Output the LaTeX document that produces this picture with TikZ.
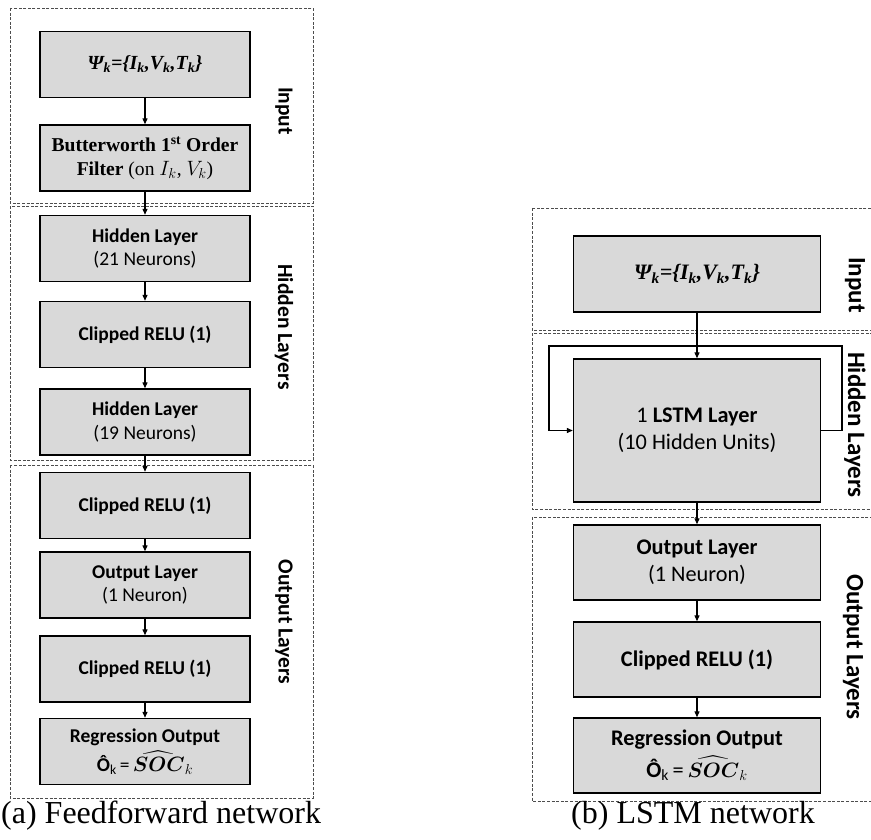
\documentclass[tikz,border=0pt]{standalone}
\usepackage{fontspec}
\usepackage{amsmath}
\usepackage{bm}
\setmainfont{Liberation Serif}
\newfontfamily\calfont{Carlito}
\usetikzlibrary{arrows.meta}

\newcommand{\fsz}[1]{\fontsize{#1}{1.22\dimexpr #1pt\relax}\selectfont}

\definecolor{boxgray}{HTML}{D9D9D9}
\definecolor{framegray}{HTML}{4D4D4D}
\tikzset{
  blk/.style={draw=black, line width=1.4pt, fill=boxgray, inner sep=0pt, align=center},
  blkA/.style={blk, minimum width=210pt, minimum height=66pt, font=\calfont\fsz{19.5}},
  blkB/.style={blk, minimum width=247pt, minimum height=75pt, font=\calfont\fsz{22.3}},
  frame/.style={draw=framegray, line width=0.8pt, dash pattern=on 3pt off 1.6pt},
  arr/.style={draw=black, line width=1.2pt, -{Triangle[length=6pt,width=5pt]}},
  sidelbl/.style={rotate=-90, inner sep=0pt, font=\calfont\bfseries},
  caption/.style={inner sep=0pt, font=\fsz{32}}
}
% estimated output: O-hat_k = SOC-hat_k
\newcommand{\socline}{\textbf{Ô}\textsubscript{k}\,=\,$\widehat{\bm{SOC}}_k$}

\begin{document}
\begin{tikzpicture}[x=1pt, y=-1pt]
\useasboundingbox (0,0) rectangle (871,840);
\clip (0,0) rectangle (871,840);

% ---------------- (a) feedforward network ----------------
\draw[frame] (10,8) rectangle (313,203);
\draw[frame] (10,206) rectangle (313,460);
\draw[frame] (10,465) rectangle (313,798);

\node[blkA, font=\fsz{20}] (psiA) at (145,64.5)
  {\bfseries\itshape Ψ\textsubscript{k}=\{I\textsubscript{k},V\textsubscript{k},T\textsubscript{k}\}};
\node[blkA, font=\fsz{19.6}] (bw) at (145,158)
  {\bfseries Butterworth 1\textsuperscript{st} Order\\ \textbf{Filter} (on $I_k$, $V_k$)};
\node[blkA] (hA1) at (145,248.5) {\bfseries Hidden Layer\\ (21 Neurons)};
\node[blkA] (cA1) at (145,334.5) {\bfseries Clipped RELU (1)};
\node[blkA] (hA2) at (145,422) {\bfseries Hidden Layer\\ (19 Neurons)};
\node[blkA] (cA2) at (145,505.5) {\bfseries Clipped RELU (1)};
\node[blkA] (oA) at (145,585) {\bfseries Output Layer\\ (1 Neuron)};
\node[blkA] (cA3) at (145,669) {\bfseries Clipped RELU (1)};
\node[blkA] (rA) at (145,751.5) {\bfseries Regression Output\\[4pt] \socline};

\draw[arr] (psiA) -- (bw);
\draw[arr] (bw) -- (hA1);
\draw[arr] (hA1) -- (cA1);
\draw[arr] (cA1) -- (hA2);
\draw[arr] (hA2) -- (cA2);
\draw[arr] (cA2) -- (oA);
\draw[arr] (oA) -- (cA3);
\draw[arr] (cA3) -- (rA);

\node[sidelbl, font=\calfont\bfseries\fsz{21.5}] (lblA1) at (284,111) {Input};
\node[sidelbl, font=\calfont\bfseries\fsz{21.5}] (lblA2) at (284,327) {Hidden Layers};
\node[sidelbl, font=\calfont\bfseries\fsz{21.5}] (lblA3) at (284,622) {Output Layers};

\node[caption, anchor=west] (capA) at (1,816) {(a) Feedforward network};

% ---------------- (b) LSTM network ----------------
\draw[frame] (532,208) rectangle (890,330);
\draw[frame] (532,333) rectangle (890,509);
\draw[frame] (532,517) rectangle (890,801);

\node[blkB, minimum height=76pt, font=\fsz{22}] (psiB) at (697,274)
  {\bfseries\itshape Ψ\textsubscript{k}=\{I\textsubscript{k},V\textsubscript{k},T\textsubscript{k}\}};
\node[blkB, minimum height=143pt] (lstm) at (697,430.5)
  {1 \textbf{LSTM Layer}\\ (10 Hidden Units)};
\node[blkB] (oB) at (697,562.5) {\bfseries Output Layer\\ (1 Neuron)};
\node[blkB] (cB) at (697,659.5) {\bfseries Clipped RELU (1)};
\node[blkB] (rB) at (697,755.5) {\bfseries Regression Output\\[4pt] \socline};

\coordinate (loopR) at (842,346);
\coordinate (loopL) at (549,346);

\draw[arr] (psiB) -- (lstm);
\draw[arr] (lstm.east) -| (loopR) -| (loopL |- lstm.west) -- (lstm.west);
\draw[arr] (lstm) -- (oB);
\draw[arr] (oB) -- (cB);
\draw[arr] (cB) -- (rB);

\node[sidelbl, font=\calfont\bfseries\fsz{25}] (lblB1) at (855,285) {Input};
\node[sidelbl, font=\calfont\bfseries\fsz{25}] (lblB2) at (855,425) {Hidden Layers};
\node[sidelbl, font=\calfont\bfseries\fsz{25}] (lblB3) at (853,647) {Output Layers};

\node[caption] (capB) at (693,816) {(b) LSTM network};
\end{tikzpicture}
\end{document}
